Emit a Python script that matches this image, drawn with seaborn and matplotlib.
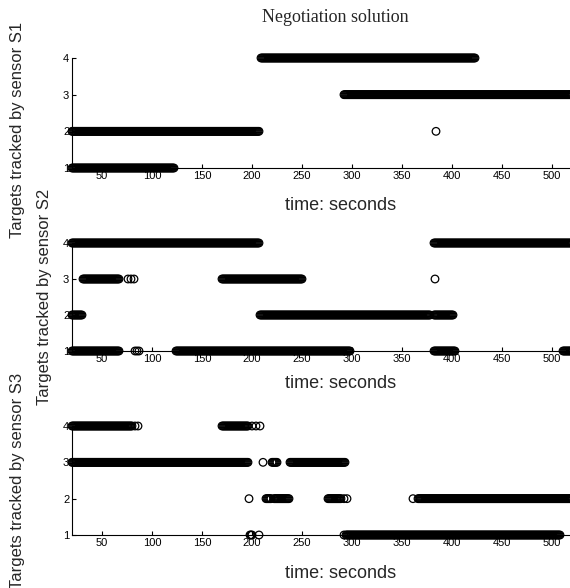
import numpy as np
import pandas as pd
import matplotlib
matplotlib.use('Agg')
import matplotlib.pyplot as plt
import seaborn as sns

# tracking runs: start time, end time, target id
# (a run with start == end is a single sample)
s1_start = [20, 20, 209, 292, 384]
s1_end = [122, 207, 423, 520, 384]
s1_target = [1, 2, 4, 3, 2]

s2_start = [20, 382, 31, 76, 79, 82, 170, 383, 20, 208, 382, 20, 83, 85, 87, 124, 382, 511]
s2_end = [207, 520, 67, 76, 79, 82, 250, 383, 30, 378, 401, 67, 83, 85, 87, 298, 403, 520]
s2_target = [4, 4, 3, 3, 3, 3, 3, 3, 2, 2, 2, 1, 1, 1, 1, 1, 1, 1]

s3_start = [20, 83, 86, 170, 200, 204, 208,
            20, 211, 220, 238,
            197, 214, 222, 276, 292, 295, 361, 366,
            198, 199, 200, 207, 292, 294]
s3_end = [80, 83, 86, 196, 200, 204, 208,
          196, 211, 225, 293,
          197, 219, 237, 289, 292, 295, 361, 520,
          198, 199, 200, 207, 292, 508]
s3_target = [4, 4, 4, 4, 4, 4, 4,
             3, 3, 3, 3,
             2, 2, 2, 2, 2, 2, 2, 2,
             1, 1, 1, 1, 1, 1]

sample_step = 1  # seconds between samples

sensors = ['S1', 'S2', 'S3']
starts = [s1_start, s2_start, s3_start]
ends = [s1_end, s2_end, s3_end]
targets = [s1_target, s2_target, s3_target]


def expand(start, end, target):
    rows = []
    for a, b, t in zip(start, end, target):
        for tt in np.arange(a, b + 1, sample_step):
            rows.append((tt, t))
    return pd.DataFrame(rows, columns=['time', 'target'])


sns.set_style('white')
plt.rcParams['font.family'] = ['Liberation Sans', 'DejaVu Sans']

W, H = 570, 588
fig = plt.figure(figsize=(W / 100, H / 100), dpi=100)

# panel top / bottom in pixels
panels = [(58, 168), (243, 351), (426, 535)]
xlabel_y = [205, 383, 573]
ylabel_pos = [(18, 130), (45, 297), (18, 481)]
left_px, right_px = 72, 610

for i, sensor in enumerate(sensors):
    top, bot = panels[i]
    ax = fig.add_axes([left_px / W, 1 - bot / H, (right_px - left_px) / W, (bot - top) / H])
    df = expand(starts[i], ends[i], targets[i])
    sns.scatterplot(x='time', y='target', data=df, ax=ax, marker='o', s=30,
                    facecolor='none', edgecolor='black', linewidth=0.9,
                    clip_on=False, legend=False)
    ax.set_xlim(20, 20 + right_px - left_px)
    ax.set_ylim(1, 4)
    ax.set_xticks(np.arange(50, 501, 50))
    ax.set_yticks([1, 2, 3, 4])
    for side in ['top', 'right']:
        ax.spines[side].set_visible(False)
    for side in ['left', 'bottom']:
        ax.spines[side].set_color('black')
        ax.spines[side].set_linewidth(0.8)
    ax.tick_params(axis='both', direction='in', length=3, width=0.8,
                   labelsize=8, colors='black', left=True, bottom=True)
    ax.tick_params(axis='y', pad=2)
    ax.tick_params(axis='x', pad=2.5)
    ax.set_xlabel('time: seconds', fontsize=13, va='center')
    ax.xaxis.set_label_coords(341 / W, 1 - xlabel_y[i] / H, transform=fig.transFigure)
    ax.set_ylabel('Targets tracked by sensor ' + sensor, fontsize=12, va='center')
    lx, ly = ylabel_pos[i]
    ax.yaxis.set_label_coords(lx / W, 1 - ly / H, transform=fig.transFigure)

fig.text(335 / W, 1 - 18 / H, 'Negotiation solution', ha='center', va='center',
         fontsize=13, family=['Liberation Serif', 'DejaVu Serif'])

fig.savefig('out.png', dpi=100)
